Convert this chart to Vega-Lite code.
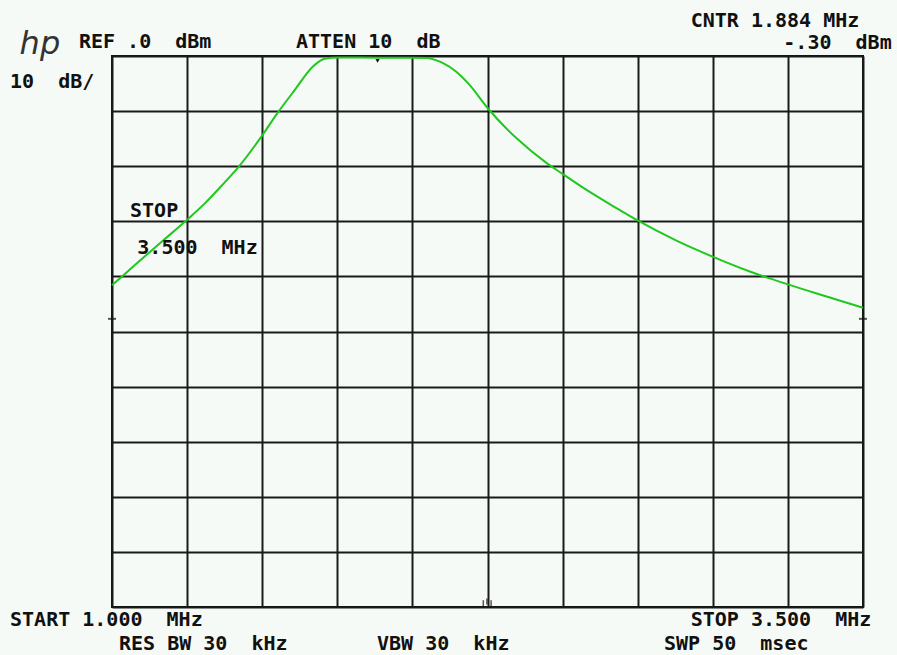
{
  "$schema": "https://vega.github.io/schema/vega-lite/v6.json",
  "width": 751,
  "height": 551,
  "autosize": {"type": "none"},
  "padding": {"left": 112, "top": 56, "right": 34, "bottom": 48},
  "background": "#f6faf6",
  "config": {
    "view": {"stroke": "#111111", "strokeWidth": 2},
    "axis": {"labels": false, "ticks": false, "domain": false, "title": null, "grid": true, "gridColor": "#1a1a1a", "gridWidth": 2, "gridOpacity": 1},
    "text": {"font": "DejaVu Sans Mono", "fontWeight": "bold", "fontSize": 20, "color": "#111111", "align": "left", "baseline": "middle"}
  },
  "encoding": {
    "x": {"type": "quantitative", "scale": {"domain": [1, 3.5], "nice": false, "zero": false}, "axis": {"values": [1, 1.25, 1.5, 1.75, 2, 2.25, 2.5, 2.75, 3, 3.25, 3.5]}},
    "y": {"type": "quantitative", "scale": {"domain": [-100, 0], "nice": false, "zero": false}, "axis": {"values": [-100, -90, -80, -70, -60, -50, -40, -30, -20, -10, 0]}}
  },
  "layer": [
    {
      "data": {"values": [
        {"freq": 1.000, "level": -41.6},
        {"freq": 1.042, "level": -39.6},
        {"freq": 1.100, "level": -36.8},
        {"freq": 1.170, "level": -33.5},
        {"freq": 1.248, "level": -29.8},
        {"freq": 1.310, "level": -26.7},
        {"freq": 1.364, "level": -23.6},
        {"freq": 1.425, "level": -19.9},
        {"freq": 1.499, "level": -14.5},
        {"freq": 1.553, "level": -10.2},
        {"freq": 1.608, "level": -6.2},
        {"freq": 1.669, "level": -1.9},
        {"freq": 1.708, "level": -0.5},
        {"freq": 1.752, "level": -0.25},
        {"freq": 1.884, "level": -0.3},
        {"freq": 2.000, "level": -0.3},
        {"freq": 2.050, "level": -0.35},
        {"freq": 2.080, "level": -0.8},
        {"freq": 2.102, "level": -1.3},
        {"freq": 2.146, "level": -2.85},
        {"freq": 2.191, "level": -5.3},
        {"freq": 2.248, "level": -9.3},
        {"freq": 2.346, "level": -14.9},
        {"freq": 2.446, "level": -19.4},
        {"freq": 2.500, "level": -21.4},
        {"freq": 2.568, "level": -23.9},
        {"freq": 2.679, "level": -27.6},
        {"freq": 2.748, "level": -29.8},
        {"freq": 2.879, "level": -33.5},
        {"freq": 2.999, "level": -36.4},
        {"freq": 3.123, "level": -39.1},
        {"freq": 3.247, "level": -41.4},
        {"freq": 3.400, "level": -44.0},
        {"freq": 3.500, "level": -45.7}
      ]},
      "mark": {"type": "line", "color": "#1ec81e", "strokeWidth": 2, "interpolate": "monotone"},
      "encoding": {"x": {"field": "freq", "type": "quantitative"}, "y": {"field": "level", "type": "quantitative"}}
    },
    {
      "data": {"values": [{"freq": 1.0, "level": -47.7}, {"freq": 3.5, "level": -47.7}]},
      "mark": {"type": "tick", "orient": "horizontal", "color": "#111111", "size": 8, "thickness": 2},
      "encoding": {"x": {"field": "freq", "type": "quantitative"}, "y": {"field": "level", "type": "quantitative"}}
    },
    {
      "data": {"values": [{"freq": 2.236, "level": -99.3}, {"freq": 2.248, "level": -99.0}, {"freq": 2.262, "level": -99.3}]},
      "mark": {"type": "tick", "orient": "vertical", "color": "#111111", "size": 6, "thickness": 1.5},
      "encoding": {"x": {"field": "freq", "type": "quantitative"}, "y": {"field": "level", "type": "quantitative"}}
    },
    {
      "data": {"values": [{"freq": 1.884, "level": -0.9}]},
      "mark": {"type": "point", "shape": "triangle-down", "filled": true, "color": "#111111", "size": 18, "opacity": 1},
      "encoding": {"x": {"field": "freq", "type": "quantitative"}, "y": {"field": "level", "type": "quantitative"}}
    },
    {
      "data": {"values": [{}]},
      "mark": {"type": "text", "text": "hp", "font": "DejaVu Sans", "fontStyle": "italic", "fontWeight": 300, "fontSize": 32, "align": "center", "color": "#333333"},
      "encoding": {"x": {"datum": 0.76}, "y": {"datum": 2.2}}
    },
    {"data": {"values": [{}]}, "mark": {"type": "text", "text": "REF .0\u00a0\u00a0dBm"}, "encoding": {"x": {"datum": 0.89}, "y": {"datum": 2.54}}},
    {"data": {"values": [{}]}, "mark": {"type": "text", "text": "ATTEN 10\u00a0\u00a0dB"}, "encoding": {"x": {"datum": 1.6125}, "y": {"datum": 2.54}}},
    {"data": {"values": [{}]}, "mark": {"type": "text", "text": "CNTR 1.884 MHz"}, "encoding": {"x": {"datum": 2.9264}, "y": {"datum": 6.4}}},
    {"data": {"values": [{}]}, "mark": {"type": "text", "text": "-.30\u00a0\u00a0dBm", "align": "right"}, "encoding": {"x": {"datum": 3.5955}, "y": {"datum": 2.3}}},
    {"data": {"values": [{}]}, "mark": {"type": "text", "text": "10\u00a0\u00a0dB/"}, "encoding": {"x": {"datum": 0.6605}, "y": {"datum": -4.66}}},
    {"data": {"values": [{}]}, "mark": {"type": "text", "text": "STOP"}, "encoding": {"x": {"datum": 1.06}, "y": {"datum": -28.13}}},
    {"data": {"values": [{}]}, "mark": {"type": "text", "text": "3.500\u00a0\u00a0MHz"}, "encoding": {"x": {"datum": 1.0842}, "y": {"datum": -34.79}}},
    {"data": {"values": [{}]}, "mark": {"type": "text", "text": "START 1.000\u00a0\u00a0MHz"}, "encoding": {"x": {"datum": 0.6605}, "y": {"datum": -102.3}}},
    {"data": {"values": [{}]}, "mark": {"type": "text", "text": "RES BW 30\u00a0\u00a0kHz"}, "encoding": {"x": {"datum": 1.0233}, "y": {"datum": -106.7}}},
    {"data": {"values": [{}]}, "mark": {"type": "text", "text": "VBW 30\u00a0\u00a0kHz"}, "encoding": {"x": {"datum": 1.8822}, "y": {"datum": -106.7}}},
    {"data": {"values": [{}]}, "mark": {"type": "text", "text": "STOP 3.500\u00a0\u00a0MHz"}, "encoding": {"x": {"datum": 2.9264}, "y": {"datum": -102.3}}},
    {"data": {"values": [{}]}, "mark": {"type": "text", "text": "SWP 50\u00a0\u00a0msec"}, "encoding": {"x": {"datum": 2.8375}, "y": {"datum": -106.7}}}
  ]
}
